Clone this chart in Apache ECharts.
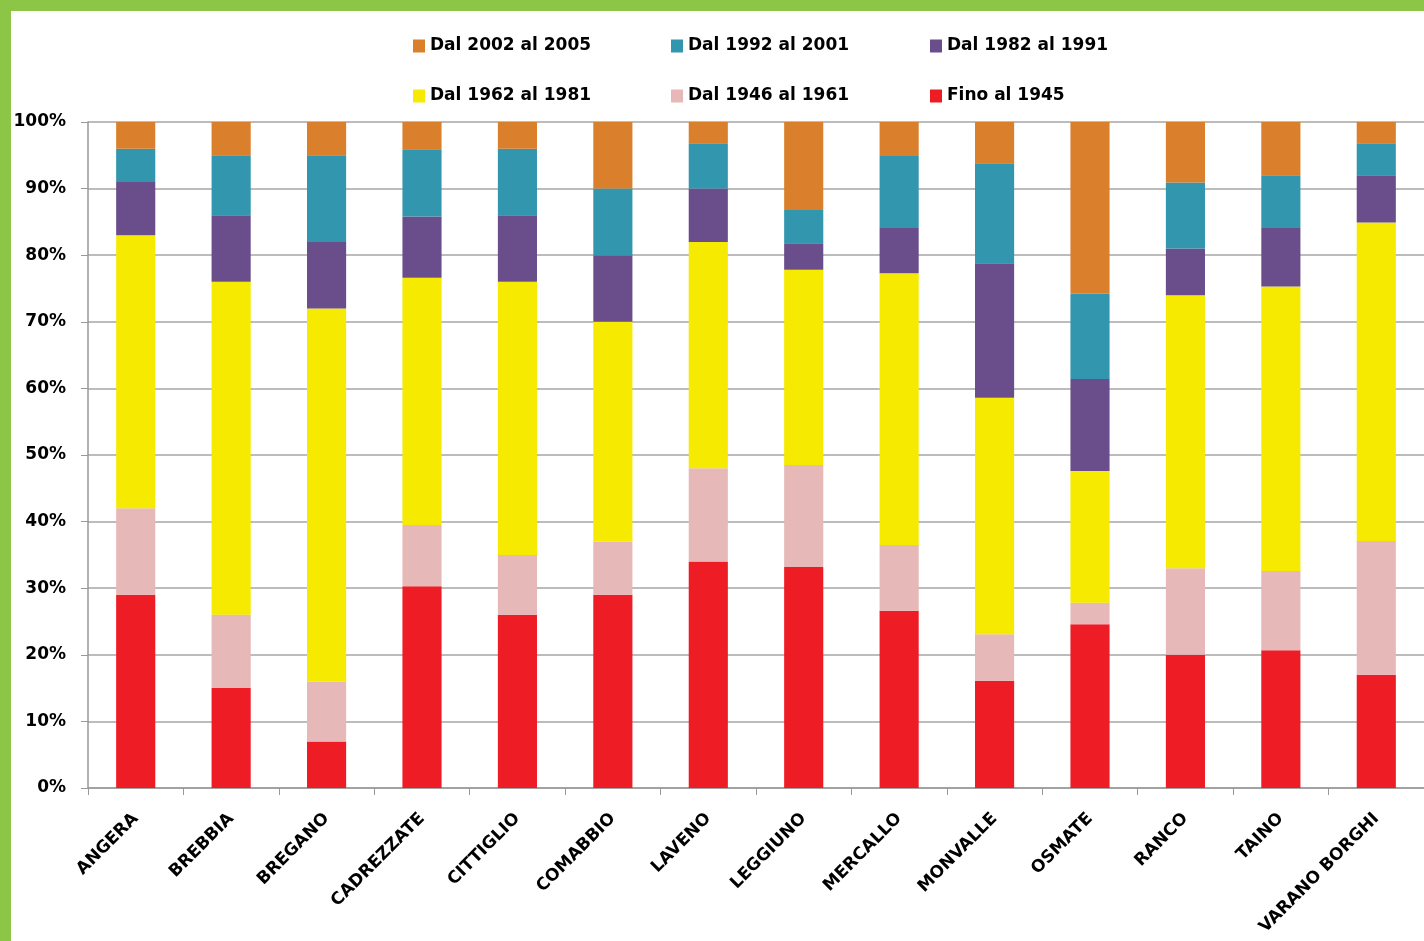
<!DOCTYPE html>
<html><head><meta charset="utf-8">
<script src="https://cdn.jsdelivr.net/npm/echarts@6/dist/echarts.min.js"></script>
<style>
html,body{margin:0;padding:0;background:#fff;}
#c{position:absolute;left:0;top:0;width:1424px;height:941px;}
.g{position:absolute;background:#8DC646;}
</style></head>
<body>
<div id="c"></div>
<div class="g" style="left:0;top:0;width:1424px;height:11px;"></div>
<div class="g" style="left:0;top:0;width:11px;height:941px;"></div>
<script>
const categories = ['ANGERA','BREBBIA','BREGANO','CADREZZATE','CITTIGLIO','COMABBIO','LAVENO','LEGGIUNO','MERCALLO','MONVALLE','OSMATE','RANCO','TAINO','VARANO BORGHI'];
const fino1945   = [29, 15, 7, 30.3, 26, 29, 34, 33.2, 26.6, 16.1, 24.6, 20, 20.7, 17];
const dal1946    = [13, 11, 9, 9.2, 9, 8, 14, 15.3, 9.9, 7, 3.2, 13, 11.9, 20.1];
const dal1962    = [41, 50, 56, 37.1, 41, 33, 34, 29.3, 40.8, 35.5, 19.8, 41, 42.7, 47.8];
const dal1982    = [8, 10, 10, 9.2, 10, 10, 8, 4, 6.8, 20.2, 13.8, 7, 8.8, 7.1];
const dal1992    = [5, 9, 13, 10.1, 10, 10, 6.8, 5, 10.8, 15, 12.8, 9.9, 7.9, 4.8];
const dal2002    = [4, 5, 5, 4.1, 4, 10, 3.2, 13.2, 5.1, 6.2, 25.8, 9.1, 8, 3.2];
const yTicks = [0,10,20,30,40,50,60,70,80,90,100];

const seriesDefs = [
  {name:'Fino al 1945', data:fino1945, color:'#EE1C25'},
  {name:'Dal 1946 al 1961', data:dal1946, color:'#E6B8B7'},
  {name:'Dal 1962 al 1981', data:dal1962, color:'#F5EA00'},
  {name:'Dal 1982 al 1991', data:dal1982, color:'#6A4E8C'},
  {name:'Dal 1992 al 2001', data:dal1992, color:'#3296AE'},
  {name:'Dal 2002 al 2005', data:dal2002, color:'#DA7F2B'}
];
const legendPos = {
  'Dal 2002 al 2005':[413,37], 'Dal 1992 al 2001':[671,37], 'Dal 1982 al 1991':[930,37],
  'Dal 1962 al 1981':[413,87], 'Dal 1946 al 1961':[671,87], 'Fino al 1945':[930,87]
};
const FONT = '"DejaVu Sans", sans-serif';
const legends = Object.keys(legendPos).map(n=>({
  data:[n], left:legendPos[n][0], top:legendPos[n][1], padding:0,
  itemWidth:12, itemHeight:13, icon:'rect', selectedMode:false,
  textStyle:{fontFamily:FONT, fontWeight:'bold', fontSize:17, color:'#000', lineHeight:18}
}));

const chart = echarts.init(document.getElementById('c'));
chart.setOption({
  animation:false,
  legend: legends,
  grid:{left:88, top:122, width:1340, height:666, containLabel:false},
  xAxis:{type:'category', data:categories,
    axisLine:{lineStyle:{color:'#999', width:1.5}},
    axisTick:{show:true, length:7, lineStyle:{color:'#999'}},
    axisLabel:{rotate:45, interval:0, margin:28, fontFamily:FONT, fontWeight:'bold', fontSize:17, color:'#000'}},
  yAxis:{type:'value', min:0, max:100, interval:10,
    axisLine:{show:true, lineStyle:{color:'#999', width:1.5}},
    axisTick:{show:true, length:7, lineStyle:{color:'#999'}},
    splitLine:{lineStyle:{color:'#A6A6A6', width:1.5}},
    axisLabel:{formatter:v=>yTicks.includes(v)?v+'%':'', margin:22, fontFamily:FONT, fontWeight:'bold', fontSize:17, color:'#000'}},
  series: seriesDefs.map(s=>({name:s.name, type:'bar', stack:'t', data:s.data, barWidth:'41%',
    itemStyle:{color:s.color}}))
});
</script>
</body></html>
